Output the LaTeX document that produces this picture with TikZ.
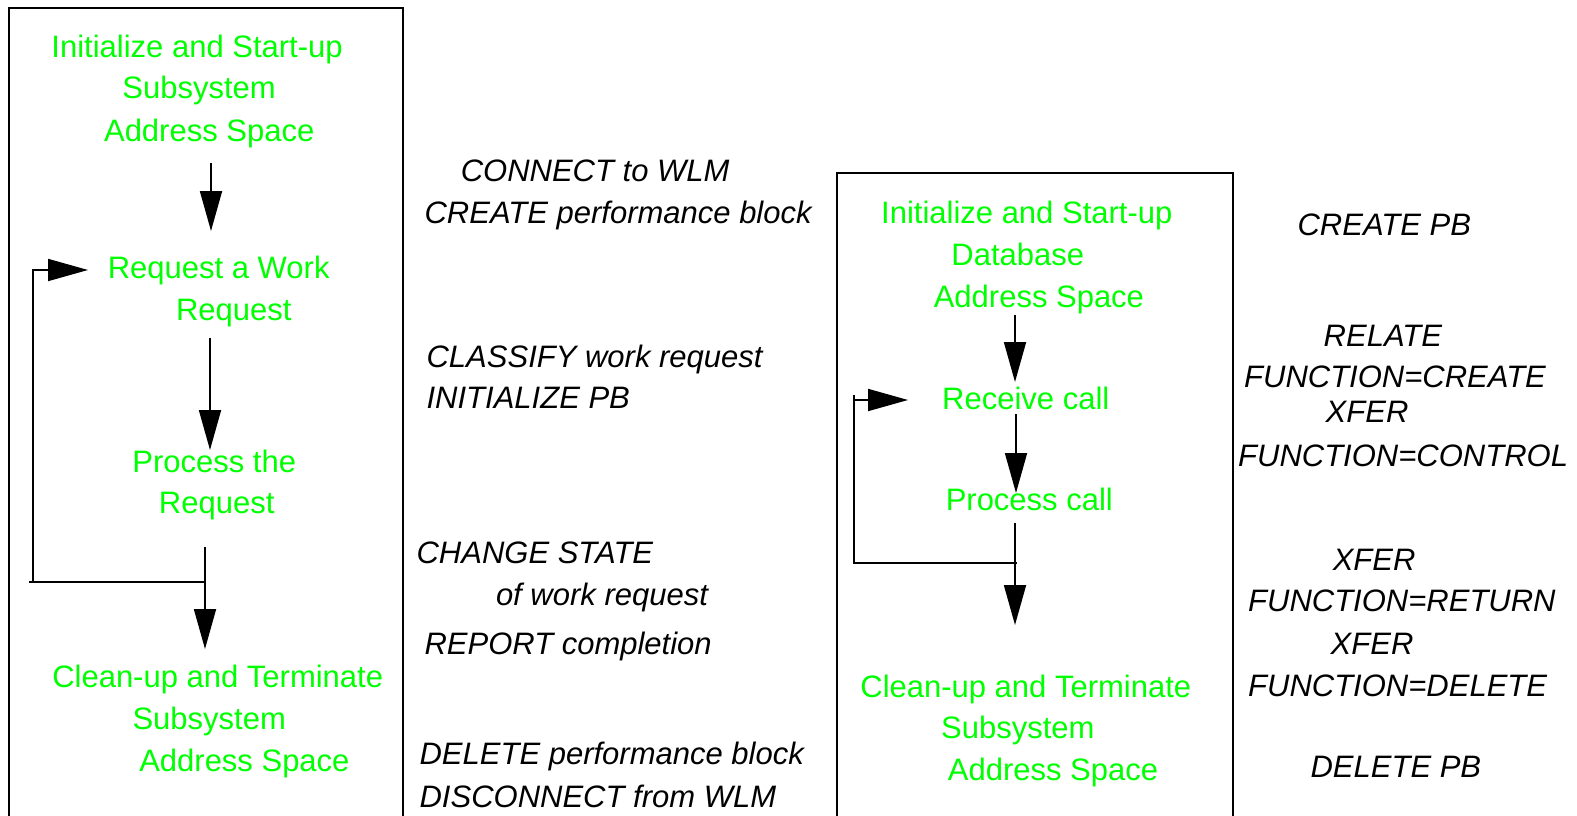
\documentclass[tikz,border=0pt]{standalone}
\usepackage{fontspec}
\setmainfont{Liberation Sans}
\usetikzlibrary{arrows.meta}
\definecolor{lgreen}{RGB}{0,255,0}
\begin{document}
\begin{tikzpicture}[x=1pt,y=-1pt,
  g/.style={text=lgreen,font=\fontsize{31}{36}\selectfont,anchor=base,inner sep=0pt},
  k/.style={text=black,font=\fontsize{31}{36}\selectfont\itshape,anchor=base west,inner sep=0pt},
  frame/.style={line width=1.8pt},
  arr/.style={line width=1.8pt,-{Triangle[length=40pt,width=22pt]}},
  ln/.style={line width=1.8pt}]
\useasboundingbox (0,0) rectangle (1577,816);
% frames
\draw[frame] (9,816) -- (9,8) -- (403,8) -- (403,816);
\draw[frame] (837,816) -- (837,173) -- (1233,173) -- (1233,816);
% left column
\node[g] (l1) at (197.1,57.8) {Initialize and Start-up};
\node[g] (l2) at (199.1,99) {Subsystem};
\node[g] (l3) at (209.2,141.2) {Address Space};
\node[g] (l4) at (218.7,278) {Request a Work};
\node[g] (l5) at (233.8,320.3) {Request};
\node[g] (l6) at (214.2,472.1) {Process the};
\node[g] (l7) at (216.7,513.4) {Request};
\node[g] (l8) at (217.7,687.3) {Clean-up and Terminate};
\node[g] (l9) at (209.2,729.6) {Subsystem};
\node[g] (l10) at (244.4,771.8) {Address Space};
% middle texts
\node[k] (m1) at (460.6,181.5) {CONNECT to WLM};
\node[k] (m2) at (424.4,223.7) {CREATE performance block};
\node[k] (m3) at (426.4,367.5) {CLASSIFY work request};
\node[k] (m4) at (426.4,408.8) {INITIALIZE PB};
\node[k] (m5) at (416.4,563.6) {CHANGE STATE};
\node[k] (m6) at (495.8,605.9) {of work request};
\node[k] (m7) at (424.4,654.1) {REPORT completion};
\node[k] (m8) at (419.4,764.8) {DELETE performance block};
\node[k] (m9) at (419.4,807) {DISCONNECT from WLM};
% right box
\node[g] (r1) at (1026.8,223.7) {Initialize and Start-up};
\node[g] (r2) at (1017.8,265.9) {Database};
\node[g] (r3) at (1038.9,307.2) {Address Space};
\node[g] (r4) at (1025.8,409.8) {Receive call};
\node[g] (r5) at (1029.3,510.3) {Process call};
\node[g] (r6) at (1025.8,697.4) {Clean-up and Terminate};
\node[g] (r7) at (1017.8,738.6) {Subsystem};
\node[g] (r8) at (1053,780.9) {Address Space};
% right column
\node[k] (c1) at (1297.4,235.8) {CREATE PB};
\node[k] (c2) at (1323.5,346.4) {RELATE};
\node[k] (c3) at (1244,387.6) {FUNCTION=CREATE};
\node[k] (c4) at (1325.5,422.8) {XFER};
\node[k] (c5) at (1238,466.1) {FUNCTION=CONTROL};
\node[k] (c6) at (1332.6,570.7) {XFER};
\node[k] (c7) at (1248,611.9) {FUNCTION=RETURN};
\node[k] (c8) at (1330.5,654.1) {XFER};
\node[k] (c9) at (1248,696.4) {FUNCTION=DELETE};
\node[k] (c10) at (1310.4,777.8) {DELETE PB};
% left arrows
\coordinate (a1s) at (211,163);
\coordinate (a1e) at (211,231);
\coordinate (a2s) at (210,338);
\coordinate (a2e) at (210,450);
\coordinate (a3s) at (205,547);
\coordinate (a3e) at (205,649);
\coordinate (lj) at (205,582);
\coordinate (lbl) at (29,582);
\coordinate (lbc) at (33,582);
\coordinate (ltc) at (33,270);
\coordinate (lte) at (88,270);
\draw[arr] (a1s) -- (a1e);
\draw[arr] (a2s) -- (a2e);
\draw[arr] (a3s) -- (a3e);
\draw[ln] (lj) -- (lbl);
\draw[arr] (lbc) -- (ltc) -- (lte);
% right arrows
\coordinate (b1s) at (1015,315);
\coordinate (b1e) at (1015,382);
\coordinate (b2s) at (1016,414);
\coordinate (b2e) at (1016,493);
\coordinate (b3s) at (1015,523);
\coordinate (b3e) at (1015,625);
\coordinate (rj) at (1017,563);
\coordinate (rbc) at (854,563);
\coordinate (rtt) at (854,395);
\coordinate (rtc) at (854,400);
\coordinate (rte) at (908,400);
\draw[arr] (b1s) -- (b1e);
\draw[arr] (b2s) -- (b2e);
\draw[arr] (b3s) -- (b3e);
\draw[ln] (rj) -- (rbc) -- (rtt);
\draw[arr] (rtc) -- (rte);
\end{tikzpicture}
\end{document}
